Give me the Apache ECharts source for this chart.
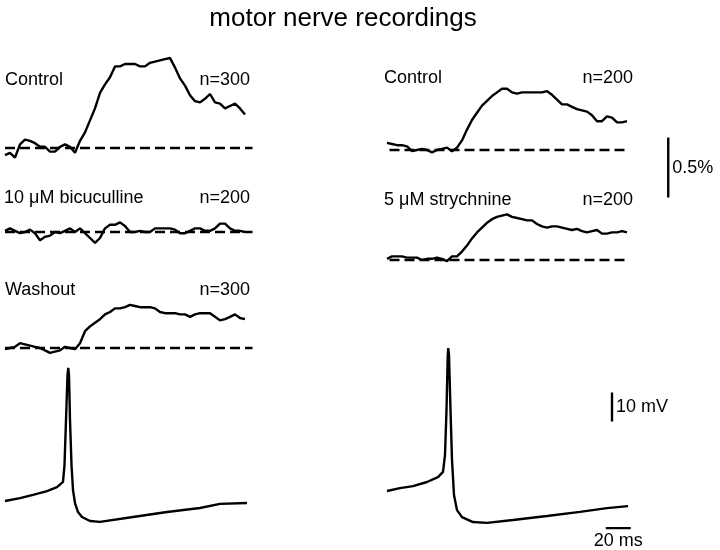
<!DOCTYPE html>
<html>
<head>
<meta charset="utf-8">
<script src="https://cdn.jsdelivr.net/npm/echarts@6/dist/echarts.min.js"></script>
<style>html,body{margin:0;padding:0;background:#fff}#c{width:720px;height:550px}</style>
</head>
<body>
<div id="c"></div>
<script>
// time base for averaged nerve recordings (ms)
var timeMs = [0,4,8,12,16,20,24,28,32,36,40,44,48,52,56,60,64,68,72,76,80,84,88,92,96,100,104,108,112,116,120,124,128,132,136,140,144,148,152,156,160,164,168,172,176,180,184,188,192];
// % change traces
var leftControl = [-0.06,-0.04,-0.08,0.03,0.07,0.06,0.04,0.01,0.01,-0.03,-0.03,0.01,0.03,0.01,-0.04,0.06,0.13,0.23,0.33,0.46,0.53,0.59,0.68,0.68,0.70,0.70,0.70,0.68,0.68,0.71,0.72,0.73,0.74,0.75,0.67,0.58,0.52,0.44,0.39,0.38,0.41,0.45,0.38,0.37,0.33,0.35,0.37,0.33,0.28];
var bicuculline = [0.01,0.03,0.01,-0.01,0,0.02,-0.01,-0.07,-0.04,-0.03,0,-0.01,0.01,0.03,0,0.03,-0.01,-0.05,-0.09,-0.05,0.03,0.06,0.06,0.08,0.05,0,0,0.01,0,0,0.03,0.03,0.03,0.03,0.02,-0.01,-0.01,0.01,0.03,0.03,0.01,0.01,0.03,0.07,0.07,0.03,0.01,0.01,0];
var washout = [-0.01,0,0.01,0.04,0.03,0.02,0.01,0,-0.02,-0.04,-0.03,-0.02,0.01,0,-0.01,0.04,0.14,0.18,0.21,0.24,0.28,0.30,0.33,0.33,0.34,0.36,0.35,0.34,0.34,0.34,0.33,0.30,0.29,0.29,0.29,0.28,0.28,0.26,0.28,0.29,0.29,0.29,0.26,0.23,0.24,0.26,0.28,0.25,0.24];
var rightControl = [0.06,0.05,0.04,0.04,0.03,-0.01,0,0.01,0,-0.02,0,0.01,0.02,-0.01,0.02,0.08,0.17,0.25,0.31,0.37,0.41,0.45,0.48,0.51,0.51,0.48,0.47,0.48,0.48,0.48,0.48,0.48,0.49,0.46,0.42,0.38,0.38,0.36,0.34,0.33,0.32,0.29,0.24,0.24,0.28,0.27,0.23,0.23,0.24];
var strychnine = [0.01,0.03,0.03,0.03,0.02,0.02,0.02,0,0.01,0.01,0.02,0.01,-0.01,0.03,0.03,0.07,0.12,0.18,0.23,0.27,0.31,0.34,0.36,0.37,0.38,0.36,0.35,0.34,0.33,0.33,0.30,0.28,0.27,0.28,0.28,0.27,0.26,0.25,0.26,0.24,0.23,0.24,0.25,0.22,0.22,0.23,0.23,0.24,0.23];
// zero baselines (ms extents)
var baselineLeftT = [0, 198];
var baselineRightT = [2, 190];
// action potentials (ms, mV)
var apLeftT = [0,12,22.4,33.6,41.6,46.4,47.6,48.8,50,50.6,51.2,52,53.2,54.4,56,58.4,61.6,68,76,102.4,129.6,156,172,193.6];
var apLeftV = [-60,-59,-57.9,-56.6,-55.2,-53.4,-47.6,-32.1,-16.6,-14.1,-16.6,-32.1,-47.6,-56.2,-60.7,-63.8,-65.5,-66.9,-67.2,-65.5,-63.8,-62.4,-61,-60.7];
var apRightT = [0,10.4,20.8,32,40.8,44.8,46.4,47.6,48.6,49,49.6,50.8,52,53.6,56,60,68.8,80,100.8,128,154.4,176,192.8];
var apRightV = [-60,-59,-58.3,-56.9,-55.2,-53.4,-47.6,-32.1,-13.1,-10.7,-13.1,-32.1,-49.3,-61.4,-66.6,-69,-70.7,-71,-70,-68.6,-67.2,-65.9,-65.2];
// scale bars
var pctBarT = 225, pctBar = [0.52, 0.77, 1.02];
var mvBarT = 180, mvBar = [-36, -31, -26];
var msBarV = -72.8, msBar = [175, 185, 195];

function zip(a, b) { return a.map(function (v, i) { return [v, b[i]]; }); }

var FONT = '"Liberation Sans", Arial, sans-serif';
var grids = [
  {left: 5, top: 52, width: 250, height: 120},     // 0 left control
  {left: 5, top: 136, width: 250, height: 120},    // 1 bicuculline
  {left: 5, top: 252, width: 250, height: 120},    // 2 washout
  {left: 5, top: 356, width: 250, height: 174},    // 3 left AP
  {left: 387, top: 54, width: 300, height: 120},   // 4 right control
  {left: 387, top: 128, width: 300, height: 156},  // 5 strychnine
  {left: 387, top: 331.5, width: 300, height: 203} // 6 right AP
];
var yRanges = [[-0.2,0.8],[-0.2,0.8],[-0.2,0.8],[-70,-10],[-0.2,0.8],[-0.2,1.1],[-75,-5]];
var xAxes = grids.map(function (g, i) {
  return {type: 'value', gridIndex: i, min: 0, max: i < 4 ? 200 : 240, show: false};
});
var yAxes = grids.map(function (g, i) {
  return {type: 'value', gridIndex: i, min: yRanges[i][0], max: yRanges[i][1], show: false};
});

function trace(idx, data, dashed) {
  return {
    type: 'line', xAxisIndex: idx, yAxisIndex: idx, data: data,
    showSymbol: false, symbol: 'none', silent: true, animation: false,
    lineStyle: {color: '#000', width: 2.4, type: dashed ? [10, 5] : 'solid'}
  };
}
function bar(idx, data, labelText, pos, labelIdx) {
  var d = data.map(function (p, i) {
    var item = {value: p};
    if (i === labelIdx) {
      item.label = {show: true, formatter: labelText, position: pos, distance: 4,
        color: '#000', fontSize: 18, fontFamily: FONT};
    }
    return item;
  });
  return {
    type: 'line', xAxisIndex: idx, yAxisIndex: idx, data: d,
    showSymbol: true, symbol: 'circle', symbolSize: 0.01, silent: true, animation: false,
    itemStyle: {color: 'rgba(0,0,0,0)'},
    label: {show: false},
    lineStyle: {color: '#000', width: 2.4, type: 'solid'}
  };
}

var series = [
  trace(0, zip(baselineLeftT, [0, 0]), true),
  trace(0, zip(timeMs, leftControl)),
  trace(1, zip(baselineLeftT, [0, 0]), true),
  trace(1, zip(timeMs, bicuculline)),
  trace(2, zip(baselineLeftT, [0, 0]), true),
  trace(2, zip(timeMs, washout)),
  trace(3, zip(apLeftT, apLeftV)),
  trace(4, zip(baselineRightT, [0, 0]), true),
  trace(4, zip(timeMs, rightControl)),
  trace(5, zip(baselineRightT, [0, 0]), true),
  trace(5, zip(timeMs, strychnine)),
  trace(6, zip(apRightT, apRightV)),
  bar(5, pctBar.map(function (v) { return [pctBarT, v]; }), '0.5%', 'right', 1),
  bar(6, mvBar.map(function (v) { return [mvBarT, v]; }), '10 mV', 'right', 1),
  bar(6, msBar.map(function (t) { return [t, msBarV]; }), '20 ms', 'bottom', 1)
];

function txt(s, x, y, align) {
  return {type: 'text', x: x, y: y, silent: true,
    style: {text: s, fill: '#000', font: '18px ' + FONT, align: align || 'left', verticalAlign: 'middle',
      textAlign: align || 'left', textVerticalAlign: 'middle'}};
}

var chart = echarts.init(document.getElementById('c'), null, {renderer: 'canvas'});
chart.setOption({
  backgroundColor: '#fff',
  animation: false,
  title: {text: 'motor nerve recordings', left: 338, top: 1, textAlign: 'center',
    textStyle: {fontFamily: FONT, fontSize: 26, fontWeight: 'normal', color: '#000'}},
  grid: grids,
  xAxis: xAxes,
  yAxis: yAxes,
  series: series,
  graphic: [
    txt('Control', 5, 80), txt('n=300', 250, 80, 'right'),
    txt('10 μM bicuculline', 4, 198), txt('n=200', 250, 198, 'right'),
    txt('Washout', 5, 290), txt('n=300', 250, 290, 'right'),
    txt('Control', 384, 78), txt('n=200', 633, 78, 'right'),
    txt('5 μM strychnine', 384, 200), txt('n=200', 633, 200, 'right')
  ]
});
</script>
</body>
</html>
